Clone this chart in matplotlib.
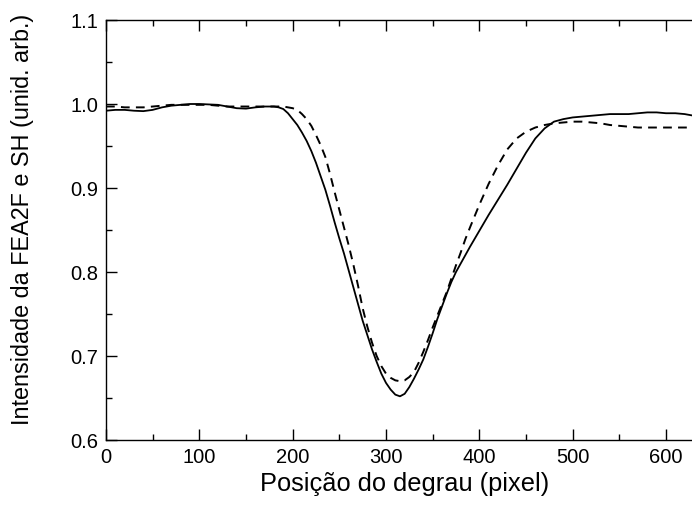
import matplotlib
matplotlib.use("Agg")
import matplotlib.pyplot as plt
from matplotlib.ticker import MultipleLocator

plt.rcParams['font.family'] = ['Liberation Sans', 'DejaVu Sans']

# Step position (pixel) and normalised intensities
pos_fea = [0, 10, 20, 30, 40, 50, 60, 70, 80, 90, 100, 110, 120, 130, 140, 150,
           160, 170, 180, 185, 190, 195, 200, 205, 210, 215, 220, 225, 230, 235,
           240, 245, 250, 255, 260, 265, 270, 275, 280, 285, 290, 295, 300, 305,
           310, 315, 320, 325, 330, 335, 340, 345, 350, 355, 360, 365, 370, 375,
           380, 385, 390, 400, 410, 420, 430, 440, 450, 460, 470, 480, 490, 500,
           510, 520, 530, 540, 550, 560, 570, 580, 590, 600, 610, 620, 630]
fea2f = [0.992, 0.993, 0.993, 0.992, 0.9915, 0.993, 0.996, 0.998, 0.999, 1.0,
         1.0, 0.9995, 0.999, 0.997, 0.995, 0.9945, 0.996, 0.997, 0.997, 0.996,
         0.994, 0.989, 0.982, 0.975, 0.966, 0.956, 0.944, 0.930, 0.914, 0.898,
         0.879, 0.859, 0.840, 0.822, 0.802, 0.782, 0.762, 0.742, 0.725, 0.708,
         0.693, 0.679, 0.668, 0.660, 0.654, 0.652, 0.655, 0.663, 0.673, 0.684,
         0.696, 0.711, 0.727, 0.744, 0.759, 0.774, 0.788, 0.800, 0.810, 0.820,
         0.830, 0.849, 0.868, 0.886, 0.904, 0.923, 0.942, 0.959, 0.971, 0.979,
         0.982, 0.984, 0.985, 0.986, 0.987, 0.988, 0.988, 0.988, 0.989, 0.990,
         0.990, 0.989, 0.989, 0.988, 0.986]

pos_sh = [0, 10, 20, 30, 40, 50, 60, 70, 80, 90, 100, 110, 120, 130, 140, 150,
          160, 170, 180, 190, 195, 200, 205, 210, 215, 220, 225, 230, 235, 240,
          245, 250, 255, 260, 265, 270, 275, 280, 285, 290, 295, 300, 305, 310,
          315, 320, 325, 330, 335, 340, 345, 350, 355, 360, 365, 370, 375, 380,
          385, 390, 400, 410, 420, 430, 440, 450, 460, 470, 480, 490, 500, 510,
          520, 530, 540, 550, 560, 570, 580, 590, 600, 610, 620, 630]
sh = [0.997, 0.997, 0.996, 0.996, 0.996, 0.997, 0.998, 0.999, 0.999, 0.999,
      0.999, 0.999, 0.998, 0.997, 0.997, 0.997, 0.997, 0.997, 0.997, 0.997,
      0.996, 0.995, 0.993, 0.988, 0.982, 0.974, 0.963, 0.951, 0.937, 0.917,
      0.895, 0.874, 0.853, 0.832, 0.809, 0.784, 0.757, 0.735, 0.716, 0.700,
      0.688, 0.679, 0.674, 0.671, 0.670, 0.671, 0.675, 0.681, 0.692, 0.705,
      0.719, 0.734, 0.748, 0.762, 0.776, 0.792, 0.808, 0.823, 0.839, 0.853,
      0.880, 0.905, 0.927, 0.946, 0.959, 0.967, 0.972, 0.975, 0.977, 0.978,
      0.979, 0.979, 0.978, 0.977, 0.975, 0.974, 0.973, 0.972, 0.972, 0.972,
      0.972, 0.972, 0.972, 0.972]

x_ticks = [0, 100, 200, 300, 400, 500, 600]
y_ticks = [0.6, 0.7, 0.8, 0.9, 1.0, 1.1]

W, H = 692, 508
fig = plt.figure(figsize=(W / 100, H / 100), dpi=100)
px_per_unit = 93.33 / 100
ax = fig.add_axes([106 / W, (H - 440) / H, 630 * px_per_unit / W, 420 / H])

ax.plot(pos_fea, fea2f, color='black', lw=1.3, solid_capstyle='round')
ax.plot(pos_sh, sh, color='black', lw=1.4, linestyle=(0, (4.5, 3.2)))

ax.set_xlim(0, 630)
ax.set_ylim(0.6, 1.1)
ax.set_xticks(x_ticks)
ax.set_xticklabels([str(v) for v in x_ticks])
ax.set_yticks(y_ticks)
ax.set_yticklabels([f"{v:.1f}" for v in y_ticks])
ax.xaxis.set_minor_locator(MultipleLocator(50))
ax.yaxis.set_minor_locator(MultipleLocator(0.05))

ax.tick_params(which='both', direction='in', top=True, right=False,
               width=1.0, labelsize=14.5)
ax.tick_params(which='major', length=8)
ax.tick_params(which='minor', length=4)
ax.tick_params(axis='y', pad=5.5)
ax.tick_params(axis='x', pad=5.5)

for s in ['left', 'bottom', 'top']:
    ax.spines[s].set_linewidth(1.0)
ax.spines['right'].set_visible(False)

ax.set_xlabel('Posição do degrau (pixel)', fontsize=18.3)
ax.set_ylabel('Intensidade da FEA2F e SH (unid. arb.)', fontsize=16.8)
ax.xaxis.set_label_coords((405 - 106) / (630 * px_per_unit), -(484 - 440) / 420,
                          transform=ax.transAxes)
ax.yaxis.set_label_coords(-(106 - 23) / (630 * px_per_unit), (440 - 219) / 420,
                          transform=ax.transAxes)
ax.xaxis.label.set_va('center')
ax.yaxis.label.set_va('center')

fig.savefig('out.png', dpi=100)
